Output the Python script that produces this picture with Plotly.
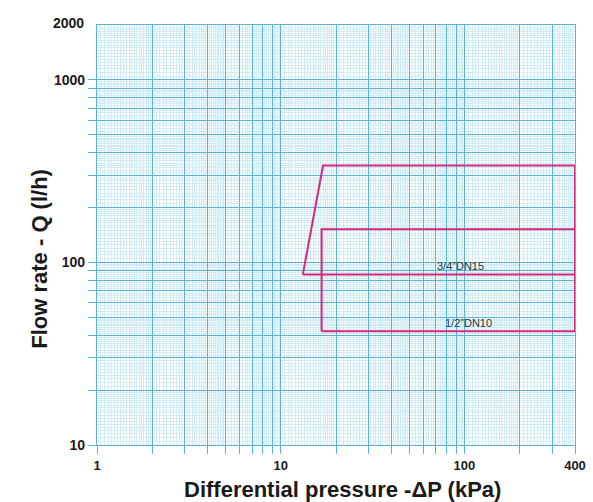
import numpy as np
import plotly.graph_objects as go

# ---- data ----
dn15_dp = [13.2, 17.0, 400, 400, 13.2]
dn15_q = [86, 340, 340, 86, 86]
dn10_dp = [16.7, 16.7, 400, 400, 16.7]
dn10_q = [42, 152, 152, 42, 42]

label_names = ["3/4\u201dDN15", "1/2\u201dDN10"]
label_dp = [95, 105]
label_q = [86, 42]

x_major = [1, 2, 3, 4, 5, 6, 7, 8, 9, 10, 20, 30, 40, 50, 60, 70, 80, 90, 100, 200, 300, 400]
x_labels = {1: "1", 10: "10", 100: "100", 400: "400"}
y_major = [10, 20, 30, 40, 50, 60, 70, 80, 90, 100, 200, 300, 400, 500, 600, 700, 800, 900, 1000]
y_labels = {10: "10", 100: "100", 1000: "1000"}

MAJOR = "#5ab3d8"
MINOR = "#d2ecf6"
PINK = "#d6287c"
FONT = "Liberation Sans, Arial, sans-serif"


def minor_vals(decades, upper):
    vals = []
    for d in decades:
        for lo, hi, st in [(1, 2, 0.05), (2, 5, 0.1), (5, 10, 0.2)]:
            n = int(round((hi - lo) / st))
            for i in range(1, n):
                v = round((lo + i * st) * d, 6)
                if v <= upper and abs(v - round(v / d) * d) > 1e-9:
                    vals.append(v)
    return vals


x_minor = minor_vals([1, 10, 100], 400)
y_minor = minor_vals([10, 100, 1000], 2000)

fig = go.Figure()
fig.add_trace(go.Scatter(x=dn15_dp, y=dn15_q, mode="lines",
                         line=dict(color=PINK, width=2), hoverinfo="skip", showlegend=False))
fig.add_trace(go.Scatter(x=dn10_dp, y=dn10_q, mode="lines",
                         line=dict(color=PINK, width=2), hoverinfo="skip", showlegend=False))

for name, dp, q in zip(label_names, label_dp, label_q):
    fig.add_annotation(x=np.log10(dp), y=np.log10(q), text=name, showarrow=False,
                       yanchor="bottom", yshift=0,
                       font=dict(family=FONT, size=11, color="#333333"))

fig.add_annotation(xref="paper", x=-0.022, xanchor="right", y=np.log10(2000), yanchor="middle",
                   yshift=2, text="2000", showarrow=False,
                   font=dict(family=FONT, size=14, color="#1a1a1a", weight="bold"))

fig.add_annotation(xref="paper", yref="paper", x=-0.15, y=0.443, textangle=-90,
                   text="Flow rate - Q (l/h)", showarrow=False,
                   font=dict(family=FONT, size=22, color="#1a1a1a", weight="bold"))
fig.add_annotation(xref="paper", yref="paper", x=0.513, y=-0.107, yanchor="middle",
                   text="Differential pressure -\u0394P (kPa)", showarrow=False,
                   font=dict(family=FONT, size=22, color="#1a1a1a", weight="bold"))

tick_font = dict(family=FONT, size=13, color="#1a1a1a", weight="bold")

fig.update_xaxes(type="log", range=[0, np.log10(400)], automargin=False,
                 tickmode="array", tickvals=x_major,
                 ticktext=[x_labels.get(v, "") for v in x_major],
                 showgrid=True, gridcolor=MAJOR, gridwidth=1.2,
                 ticks="outside", ticklen=8, tickcolor=MAJOR, tickwidth=1.2,
                 showline=True, linecolor=MAJOR, linewidth=1.2, mirror=True,
                 zeroline=False, tickfont=tick_font,
                 minor=dict(tickmode="array", tickvals=x_minor, showgrid=True,
                            gridcolor=MINOR, gridwidth=1, ticks=""))
fig.update_yaxes(type="log", range=[1, np.log10(2000)], automargin=False,
                 tickmode="array", tickvals=y_major,
                 ticktext=[y_labels.get(v, "") for v in y_major],
                 showgrid=True, gridcolor=MAJOR, gridwidth=1.2,
                 ticks="outside", ticklen=8, tickcolor=MAJOR, tickwidth=1.2,
                 showline=True, linecolor=MAJOR, linewidth=1.2, mirror=True,
                 zeroline=False, tickfont=dict(tick_font, size=14),
                 minor=dict(tickmode="array", tickvals=y_minor, showgrid=True,
                            gridcolor=MINOR, gridwidth=1, ticks=""))

fig.update_layout(width=593, height=502, margin=dict(l=97, r=18, t=25, b=57),
                  plot_bgcolor="white", paper_bgcolor="white", showlegend=False)

# remove the page's default 8px body margin so the figure fills the window exactly
fig.write_html("out.html", config={"displayModeBar": False},
               post_script="document.body.style.margin='0';document.body.style.overflow='hidden';")
